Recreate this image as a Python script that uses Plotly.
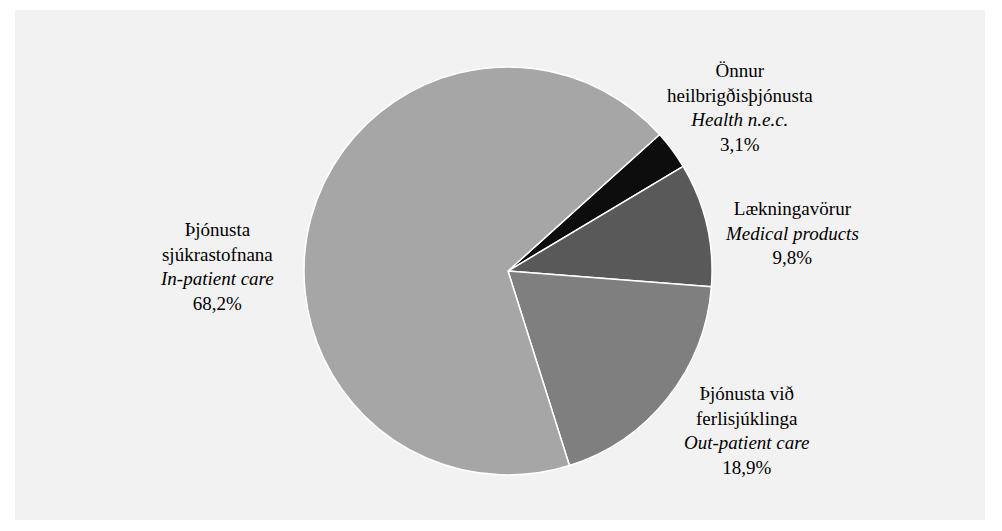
import plotly.graph_objects as go

labels_is = ["Önnur<br>heilbrigðisþjónusta", "Lækningavörur", "Þjónusta við<br>ferlisjúklinga", "Þjónusta<br>sjúkrastofnana"]
labels_en = ["Health n.e.c.", "Medical products", "Out-patient care", "In-patient care"]
values = [3.1, 9.8, 18.9, 68.2]
colors = ["#0d0d0d", "#595959", "#7f7f7f", "#a6a6a6"]

# page body has an 8px margin; work in screen pixels and convert
OFF = 8
W, H = 986, 515
ML, MT = 15 - OFF, 10 - OFF
MR = W - (985 - OFF)
MB = H - (520 - OFF)
PW, PH = W - ML - MR, H - MT - MB

def px(x):
    return (x - OFF - ML) / PW

def py(y):
    return 1 - (y - OFF - MT) / PH

cx, cy, r = 508, 271, 204

fig = go.Figure(go.Pie(
    labels=[l.replace("<br>", " ") for l in labels_is],
    values=values,
    sort=False,
    direction="clockwise",
    rotation=48,
    marker=dict(colors=colors, line=dict(color="white", width=1.5)),
    textinfo="none",
    hoverinfo="label+percent",
    domain=dict(x=[px(cx - r), px(cx + r)], y=[py(cy + r), py(cy - r)]),
    showlegend=False,
))

label_pos = [(740, 108), (792, 233), (746, 430), (217, 266)]
for li, le, v, (lx, ly) in zip(labels_is, labels_en, values, label_pos):
    pct = f"{v:.1f}".replace(".", ",") + "%"
    txt = f"{li}<br><i>{le}</i><br>{pct}"
    fig.add_annotation(x=px(lx), y=py(ly), xref="paper", yref="paper",
                       text=txt, showarrow=False, xanchor="center", yanchor="middle",
                       align="center",
                       font=dict(family="Liberation Serif", size=19, color="#000000"))

fig.add_shape(type="rect", xref="paper", yref="paper", x0=0, y0=0, x1=1, y1=1,
              fillcolor="#f2f2f2", line=dict(width=0), layer="below")

fig.update_layout(
    width=W, height=H,
    margin=dict(l=ML, r=MR, t=MT, b=MB),
    paper_bgcolor="white",
    plot_bgcolor="#f2f2f2",
)

fig.write_html("out.html")
